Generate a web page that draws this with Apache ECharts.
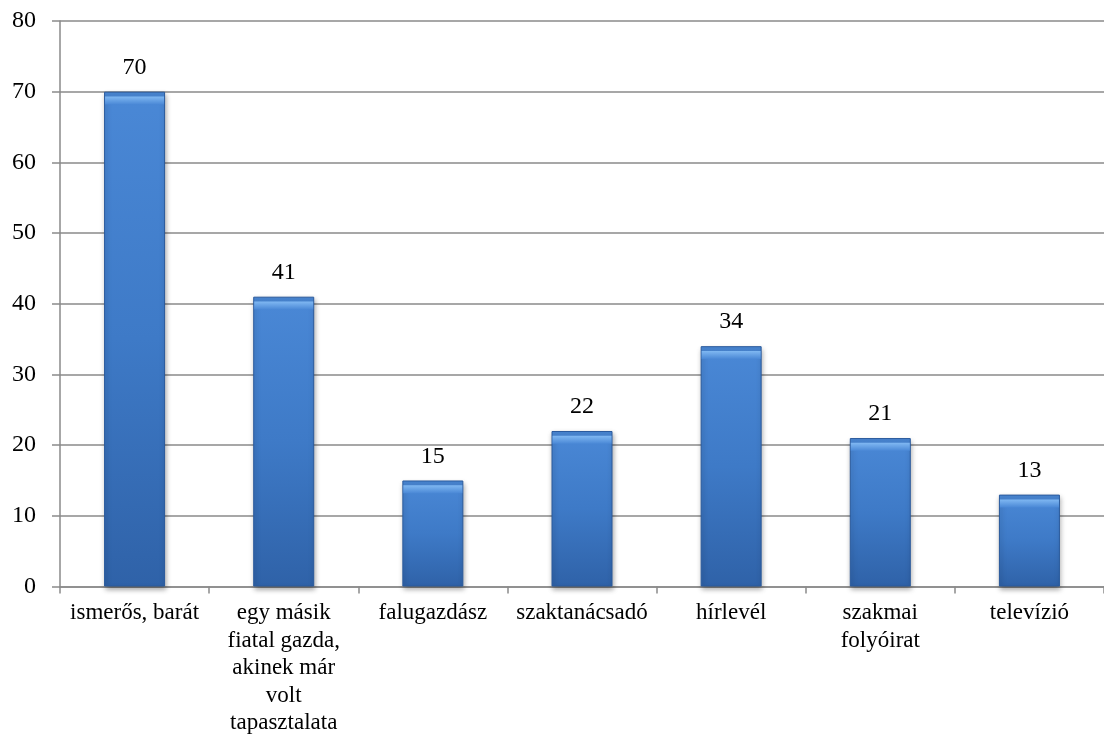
<!DOCTYPE html>
<html>
<head>
<meta charset="utf-8">
<script src="https://cdn.jsdelivr.net/npm/echarts@6/dist/echarts.min.js"></script>
<style>
html,body{margin:0;padding:0;background:#fff;}
#chart{width:1104px;height:737px;}
</style>
</head>
<body>
<div id="chart"></div>
<script>
var categories = [
  'ismerős, barát',
  'egy másik\nfiatal gazda,\nakinek már\nvolt\ntapasztalata',
  'falugazdász',
  'szaktanácsadó',
  'hírlevél',
  'szakmai\nfolyóirat',
  'televízió'
];
var values = [70, 41, 15, 22, 34, 21, 13];
var yTicks = [0, 10, 20, 30, 40, 50, 60, 70, 80];

var chart = echarts.init(document.getElementById('chart'), null, {renderer: 'canvas'});
var font = '"Liberation Serif", "Times New Roman", serif';
chart.setOption({
  animation: false,
  backgroundColor: '#ffffff',
  grid: {left: 60, top: 21, bottom: 150, width: 1053, containLabel: false},
  xAxis: {
    type: 'category',
    data: categories,
    axisLine: {lineStyle: {color: '#8a8a8a', width: 1.5}},
    axisTick: {show: true, length: 7, lineStyle: {color: '#8a8a8a', width: 1.5}},
    axisLabel: {
      color: '#000', fontFamily: font, fontSize: 23, lineHeight: 27.5,
      margin: 13, interval: 0, align: 'center'
    }
  },
  yAxis: {
    type: 'value',
    min: yTicks[0],
    max: yTicks[yTicks.length - 1],
    interval: 10,
    axisLine: {show: true, lineStyle: {color: '#8a8a8a', width: 1.5}},
    axisTick: {show: true, length: 8, lineStyle: {color: '#8a8a8a', width: 1.5}},
    axisLabel: {color: '#000', fontFamily: font, fontSize: 24, margin: 24},
    splitLine: {show: true, lineStyle: {color: '#8a8a8a', width: 1.6}}
  },
  series: [{
    type: 'bar',
    data: values,
    barWidth: 61,
    barGap: '-100%',
    itemStyle: {
      color: new echarts.graphic.LinearGradient(0, 0, 0, 1, [
        {offset: 0, color: '#4a88d6'},
        {offset: 0.5, color: '#3e7ac7'},
        {offset: 1, color: '#2f62a8'}
      ]),
      borderColor: '#2a5a9c',
      borderWidth: 1,
      shadowBlur: 5,
      shadowOffsetX: 1,
      shadowOffsetY: 3,
      shadowColor: 'rgba(0,0,0,0.35)'
    },
    label: {
      show: true,
      position: 'top',
      distance: 12,
      color: '#000',
      fontFamily: font,
      fontSize: 24
    }
  }, {
    type: 'pictorialBar',
    data: values,
    barWidth: 61,
    barGap: '-100%',
    symbol: 'rect',
    symbolSize: [59, 8],
    symbolPosition: 'end',
    symbolOffset: [0, '60%'],
    z: 3,
    silent: true,
    itemStyle: {
      color: new echarts.graphic.LinearGradient(0, 0, 0, 1, [
        {offset: 0, color: '#80b8f2'},
        {offset: 1, color: '#4a88d6'}
      ])
    },
    label: {show: false}
  }]
});
</script>
</body>
</html>
